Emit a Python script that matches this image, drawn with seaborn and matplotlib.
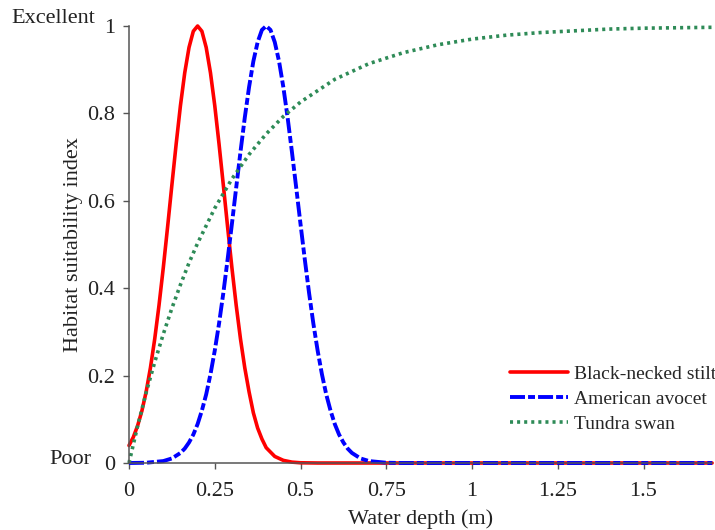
import numpy as np
import pandas as pd
import matplotlib
matplotlib.use("Agg")
import matplotlib.pyplot as plt
import seaborn as sns

# 水深 (m) と各種の生息適性指数
depth_stilt = [0, 0.0125, 0.025, 0.0375, 0.05, 0.0625, 0.075, 0.0875, 0.1, 0.1125,
               0.125, 0.1375, 0.15, 0.1625, 0.175, 0.1875, 0.2, 0.2125, 0.225, 0.2375,
               0.25, 0.2625, 0.275, 0.2875, 0.3, 0.3125, 0.325, 0.3375, 0.35, 0.3625,
               0.375, 0.3875, 0.4, 0.425, 0.45, 0.475, 0.5, 0.55, 1.0, 1.7]
hsi_stilt = [0.04, 0.059, 0.085, 0.119, 0.163, 0.218, 0.284, 0.361, 0.447, 0.540,
             0.636, 0.730, 0.818, 0.893, 0.951, 0.988, 1.0, 0.988, 0.951, 0.893,
             0.818, 0.730, 0.636, 0.540, 0.447, 0.361, 0.284, 0.218, 0.163, 0.115,
             0.08, 0.055, 0.035, 0.015, 0.006, 0.002, 0.0005, 0, 0, 0]

depth_avocet = [0, 0.05, 0.1, 0.125, 0.15,
                0.1625, 0.175, 0.1875, 0.2, 0.2125, 0.225, 0.2375, 0.25, 0.2625, 0.275,
                0.2875, 0.3, 0.3125, 0.325, 0.3375, 0.35, 0.3625, 0.375, 0.3875, 0.4,
                0.4125, 0.425, 0.4375, 0.45, 0.4625, 0.475, 0.4875, 0.5, 0.5125, 0.525,
                0.5375, 0.55, 0.5625, 0.575, 0.5875, 0.6, 0.6125, 0.625, 0.6375, 0.65,
                0.675, 0.7, 0.75, 0.8, 1.0, 1.7]
hsi_avocet = [0, 0.0006, 0.0044, 0.0104, 0.023,
              0.033, 0.047, 0.065, 0.089, 0.120, 0.157, 0.203, 0.257, 0.319, 0.389,
              0.466, 0.547, 0.630, 0.712, 0.790, 0.860, 0.919, 0.963, 0.991, 1.0,
              0.991, 0.963, 0.919, 0.860, 0.790, 0.712, 0.630, 0.547, 0.466, 0.389,
              0.319, 0.257, 0.203, 0.157, 0.120, 0.089, 0.065, 0.047, 0.033, 0.023,
              0.0104, 0.0044, 0.0006, 0, 0, 0]

depth_swan = [0, 0.025, 0.05, 0.075, 0.1, 0.125, 0.15, 0.175, 0.2, 0.25, 0.3, 0.35, 0.4,
              0.45, 0.5, 0.6, 0.7, 0.8, 0.9, 1.0, 1.1, 1.2, 1.3, 1.4, 1.5, 1.6, 1.7]
hsi_swan = [0, 0.084, 0.161, 0.231, 0.295, 0.354, 0.408, 0.458, 0.503, 0.583, 0.650,
            0.706, 0.753, 0.793, 0.826, 0.878, 0.914, 0.939, 0.957, 0.970, 0.979,
            0.985, 0.989, 0.993, 0.995, 0.996, 0.997]

x_ticks = [0, 0.25, 0.5, 0.75, 1, 1.25, 1.5]
x_tick_labels = ["0", "0.25", "0.5", "0.75", "1", "1.25", "1.5"]
y_ticks = [0, 0.2, 0.4, 0.6, 0.8, 1]
y_tick_labels = ["0", "0.2", "0.4", "0.6", "0.8", "1"]

###============== 描画 ==============###
sns.set_style("ticks")
plt.rcParams["font.family"] = ["Liberation Serif", "DejaVu Serif"]
plt.rcParams["lines.scale_dashes"] = False

fig = plt.figure(figsize=(7.15, 5.3), dpi=100)
ax = fig.add_axes([129 / 715, 1 - 463 / 530, 1.7 * 343 / 715, 437 / 530])

sns.lineplot(x=depth_stilt, y=hsi_stilt, color="#ff0000", linewidth=2.6,
             label="Black-necked stilt", ax=ax, clip_on=False)
sns.lineplot(x=depth_avocet, y=hsi_avocet, color="#0000ff", linewidth=2.8,
             linestyle=(0, (10.8, 2.2, 5.0, 2.2)), label="American avocet", ax=ax, clip_on=False)
sns.lineplot(x=depth_swan, y=hsi_swan, color="#2e8b57", linewidth=2.6,
             linestyle=(0, (2.2, 2.9)), label="Tundra swan", ax=ax, clip_on=False)

ax.set_xlim(0, 1.7)
ax.set_ylim(0, 1)
ax.set_xticks(x_ticks)
ax.set_xticklabels(x_tick_labels)
ax.set_yticks(y_ticks)
ax.set_yticklabels(y_tick_labels)
ax.tick_params(axis="both", labelsize=16, length=4, width=1.0, color="#555555",
               labelcolor="#222222")
ax.tick_params(axis="y", pad=6)
ax.tick_params(axis="x", pad=9.5)
for side in ["left", "bottom"]:
    ax.spines[side].set_color("#555555")
    ax.spines[side].set_linewidth(1.1)
sns.despine(ax=ax)

ax.set_xlabel("Water depth (m)", fontsize=16, color="#222222", labelpad=6)
ax.set_ylabel("Habitat suitability index", fontsize=16, color="#222222", labelpad=3)

# 両端のラベル
ax.text(-0.058, 1.017, "Excellent", transform=ax.transAxes, ha="right", va="center",
        fontsize=16, color="#222222")
ax.text(-0.064, 0.008, "Poor", transform=ax.transAxes, ha="right", va="center",
        fontsize=16, color="#222222")

ax.legend(loc="upper left", bbox_to_anchor=(0.6535, 0.224), frameon=False, fontsize=14,
          handlelength=3.0, handletextpad=0.3, labelspacing=0.38, borderpad=0,
          borderaxespad=0)

plt.savefig("out.png", dpi=100)
plt.close()
